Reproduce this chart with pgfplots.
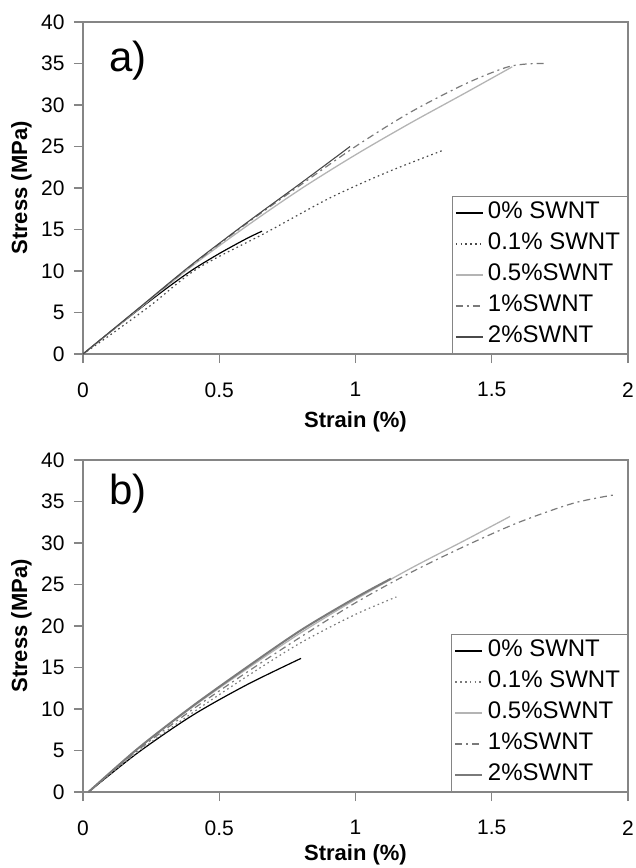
\documentclass[border=0pt]{standalone}
\usepackage{pgfplots}
\pgfplotsset{compat=1.18}
\usepackage{fontspec}
\setmainfont{Liberation Sans}
\definecolor{framec}{HTML}{858585}
\definecolor{lgray}{HTML}{B4B4B4}
\definecolor{mgray}{HTML}{7A7A7A}
\definecolor{dgray}{HTML}{4A4A4A}
\pgfplotsset{
  mystyle/.style={
    scale only axis, width=545pt, height=332pt,
    xmin=0, xmax=2, ymin=0, ymax=40,
    xtick={0,0.5,1,1.5,2}, ytick={0,5,...,40},
    xticklabels={0,0.5,1,1.5,2},
    axis line style={framec, line width=1.1pt},
    tick style={framec, line width=1.1pt},
    tick align=outside, major tick length=9pt,
    xtick pos=bottom, ytick pos=left,
    /pgf/number format/assume math mode=true,
    tick label style={font=\fontsize{21}{24}\selectfont},
    xticklabel style={yshift=-16pt},
    yticklabel style={xshift=-6pt},
    label style={font=\bfseries\fontsize{22}{26}\selectfont},
    xlabel={Strain (\%)}, ylabel={Stress (MPa)},
    ylabel style={at={(axis description cs:-0.113,0.5)}, anchor=center},
    legend cell align=left,
    legend style={draw=framec, line width=1.1pt, at={(1,0)}, anchor=south east,
      font=\fontsize{24}{28}\selectfont, inner xsep=3pt, inner ysep=1pt,
      nodes={text height=17pt, text depth=5pt, inner sep=4.5pt},
      /tikz/every even column/.append style={column sep=0pt}},
    legend image code/.code={\draw[#1] (0pt,0pt) -- (27pt,0pt);},
  }
}
\begin{document}
\begin{tikzpicture}
\useasboundingbox (0,0) rectangle (635pt,-868pt);
% ---------------- a) ----------------
\begin{axis}[mystyle, at={(83pt,-354pt)}, anchor=south west,
  xlabel style={at={(axis description cs:0.5,-0.205)}, anchor=center}]
\addplot[black, line width=1.2pt, smooth] coordinates {(0,0) (0.1,2.65) (0.2,5.25) (0.3,7.75) (0.4,10.1) (0.5,12.1) (0.6,13.9) (0.657,14.8)};
\addlegendentry{0\% SWNT}
\addplot[dgray, line width=1.2pt, smooth, dash pattern=on 1.6pt off 3.2pt] coordinates {(0,0) (0.1,2.3) (0.25,5.9) (0.42,10.3) (0.67,14.6) (0.906,18.8) (1.116,21.9) (1.326,24.6)};
\addlegendentry{0.1\% SWNT}
\addplot[lgray, line width=1.3pt, smooth] coordinates {(0,0) (0.2,5.3) (0.4,10.6) (0.6,15.4) (0.8,19.9) (1.0,24.0) (1.2,27.8) (1.4,31.4) (1.575,34.6)};
\addlegendentry{0.5\%SWNT}
\addplot[mgray, line width=1.2pt, smooth, dash pattern=on 7pt off 4pt on 2pt off 4pt] coordinates {(0,0) (0.2,5.35) (0.4,10.7) (0.6,15.7) (0.8,20.4) (1.0,25.0) (1.2,29.1) (1.4,32.5) (1.55,34.5) (1.63,34.95) (1.70,35.0)};
\addlegendentry{1\%SWNT}
\addplot[dgray, line width=1.1pt, smooth] coordinates {(0,0) (0.2,5.4) (0.4,10.8) (0.6,15.8) (0.8,20.6) (0.98,25.0)};
\addlegendentry{2\%SWNT}
\node[anchor=center, font=\fontsize{42}{44}\selectfont] at (axis description cs:0.083,0.885) {a)};
\end{axis}
% ---------------- b) ----------------
\begin{axis}[mystyle, at={(83pt,-792pt)}, anchor=south west,
  xlabel style={at={(axis description cs:0.5,-0.19)}, anchor=center}]
\addplot[black, line width=1.2pt, smooth] coordinates {(0.02,0) (0.2,4.7) (0.4,9.2) (0.6,12.9) (0.8,16.1)};
\addlegendentry{0\% SWNT}
\addplot[mgray, line width=1.2pt, smooth, dash pattern=on 1.6pt off 3.2pt] coordinates {(0.02,0) (0.2,4.8) (0.4,9.5) (0.6,13.9) (0.8,18.0) (1.0,21.4) (1.15,23.5)};
\addlegendentry{0.1\% SWNT}
\addplot[lgray, line width=1.3pt, smooth] coordinates {(0.02,0) (0.2,5.2) (0.4,10.2) (0.6,14.8) (0.8,19.2) (1.0,23.2) (1.2,26.9) (1.4,30.3) (1.567,33.2)};
\addlegendentry{0.5\%SWNT}
\addplot[mgray, line width=1.2pt, smooth, dash pattern=on 7pt off 4pt on 2pt off 4pt] coordinates {(0.02,0) (0.2,5.0) (0.4,9.9) (0.6,14.4) (0.8,18.7) (1.0,22.8) (1.2,26.4) (1.4,29.6) (1.6,32.5) (1.8,34.8) (1.95,35.8)};
\addlegendentry{1\%SWNT}
\addplot[mgray, line width=2pt, smooth] coordinates {(0.02,0) (0.2,5.2) (0.4,10.3) (0.6,15.0) (0.8,19.5) (1.0,23.4) (1.13,25.7)};
\addlegendentry{2\%SWNT}
\node[anchor=center, font=\fontsize{42}{44}\selectfont] at (axis description cs:0.083,0.9) {b)};
\end{axis}
\end{tikzpicture}
\end{document}
